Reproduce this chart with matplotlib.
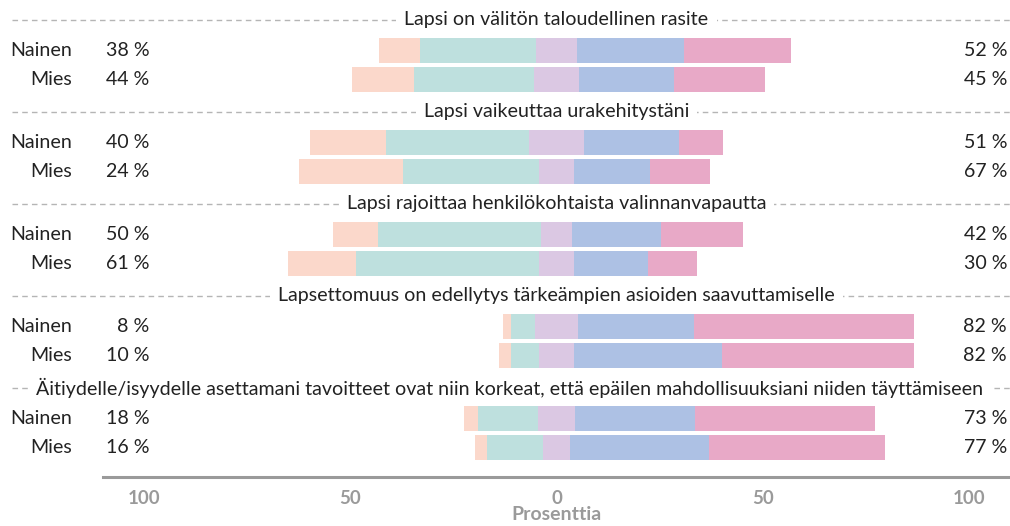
import matplotlib
matplotlib.use("Agg")
import matplotlib.pyplot as plt
from matplotlib.transforms import blended_transform_factory

plt.rcParams['font.family'] = ['Lato', 'DejaVu Sans']

statements = [
    "Lapsi on välitön taloudellinen rasite",
    "Lapsi vaikeuttaa urakehitystäni",
    "Lapsi rajoittaa henkilökohtaista valinnanvapautta",
    "Lapsettomuus on edellytys tärkeämpien asioiden saavuttamiselle",
    "Äitiydelle/isyydelle asettamani tavoitteet ovat niin korkeat, että epäilen mahdollisuuksiani niiden täyttämiseen",
]
groups = ["Nainen", "Mies"]

# segment shares (%) per statement, [Nainen, Mies]
strongly_agree = [[10, 15], [18.4, 25.2], [10.9, 16.5], [1.9, 2.9], [3.4, 2.9]]
agree          = [[28, 29], [34.7, 32.8], [39.6, 44.4], [5.8, 7.0], [14.6, 13.6]]
neutral        = [[10, 11], [13.3, 8.7], [7.5, 8.5], [10.4, 8.3], [9.0, 6.6]]
disagree       = [[26, 23], [23.0, 18.3], [21.6, 18.0], [28.1, 35.9], [29.1, 33.8]]
strongly_dis   = [[26, 22], [10.7, 14.7], [19.9, 11.9], [53.5, 46.6], [43.7, 42.6]]

left_labels  = [[38, 44], [40, 24], [50, 61], [8, 10], [18, 16]]
right_labels = [[52, 45], [51, 67], [42, 30], [82, 82], [73, 77]]

xticks = [-100, -50, 0, 50, 100]
xtick_labels = ["100", "50", "0", "50", "100"]
xlabel = "Prosenttia"

colors = ["#FBD8CB", "#BEE0DE", "#DBC8E3", "#ADC1E4", "#E8A9C7"]
text_color = "#222222"
grey = "#9a9a9a"

W, H = 1010, 526
fig = plt.figure(figsize=(W / 100, H / 100), dpi=100)
axis_y_px = 477
ax = fig.add_axes([103 / W, 1 - axis_y_px / H, (W - 103) / W, axis_y_px / H])
ax.set_xlim(-110, 110)
ax.set_ylim(axis_y_px, 0)

group_step = 92.0
first_row = 50.5
row_gap = 29.0
header_off = 30.5
bar_h = 25
fs = 14.1

figx = blended_transform_factory(fig.transFigure, ax.transData)
headers = []

for s, stmt in enumerate(statements):
    base = first_row + s * group_step
    hy = base - header_off
    ax.plot([12 / W, 1.0], [hy, hy], transform=figx, color="#b5b5b5", lw=1.0,
            linestyle=(0, (4, 3)), clip_on=False, zorder=1)
    t = ax.text(0, hy, stmt, ha="center", va="center", fontsize=fs, color=text_color,
                zorder=2, bbox=dict(boxstyle="square,pad=0.42", fc="white", ec="none"))
    headers.append((t, hy))
    for g, grp in enumerate(groups):
        y = base + g * row_gap
        sa = strongly_agree[s][g]
        a = agree[s][g]
        n = neutral[s][g]
        d = disagree[s][g]
        sd = strongly_dis[s][g]
        start = -n / 2 - a - sa
        widths = [sa, a, n, d, sd]
        left = start
        for w, c in zip(widths, colors):
            ax.barh(y, w, left=left, height=bar_h, color=c, edgecolor="none", zorder=3)
            left += w
        ax.text(72 / W, y, grp, transform=figx, ha="right", va="center",
                fontsize=fs, color=text_color, clip_on=False)
        ax.text(-98.7, y, f"{left_labels[s][g]} %", ha="right", va="center",
                fontsize=fs, color=text_color)
        ax.text(109.3, y, f"{right_labels[s][g]} %", ha="right", va="center",
                fontsize=fs, color=text_color, clip_on=False)

for sp in ["top", "left", "right"]:
    ax.spines[sp].set_visible(False)
ax.spines["bottom"].set_color(grey)
ax.spines["bottom"].set_linewidth(2.2)
ax.set_yticks([])
ax.set_xticks(xticks)
ax.set_xticklabels(xtick_labels, fontsize=13.5, color=grey, fontweight="bold")
ax.tick_params(axis="x", length=0, pad=9)
ax.set_xlabel(xlabel, fontsize=14, color=grey, fontweight="bold", labelpad=0)

# keep wide headers inside the figure
fig.canvas.draw()
renderer = fig.canvas.get_renderer()
px_per_unit = ax.bbox.width / 220.0
for t, hy in headers:
    bb = t.get_window_extent(renderer)
    limit = fig.bbox.width - 27
    if bb.x1 > limit:
        t.set_x(-(bb.x1 - limit) / px_per_unit)

fig.savefig("out.png", dpi=100)
